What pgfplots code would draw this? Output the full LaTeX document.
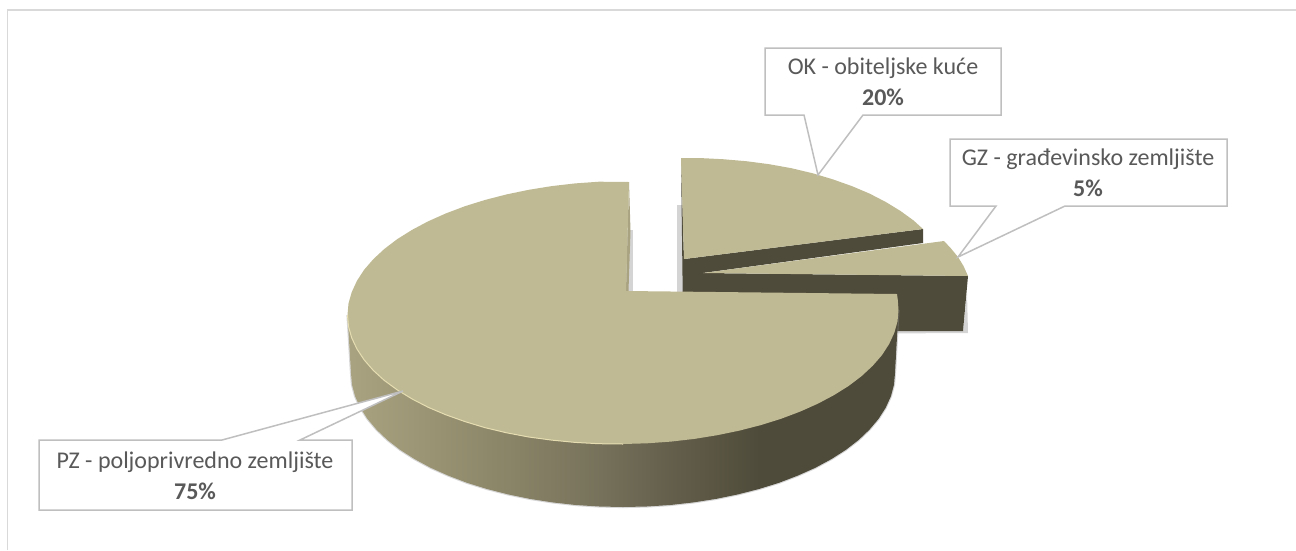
\documentclass[border=0pt]{standalone}
\usepackage{fontspec}
\setmainfont{Carlito}
\usepackage{pgfplots}
\usepackage{pgfplotstable}
\pgfplotsset{compat=1.18}
\definecolor{pietop}{HTML}{BFBA93}
\definecolor{piedark}{HTML}{4F4B3B}
\definecolor{pieedge}{HTML}{E6DDB2}
\definecolor{boxline}{HTML}{BFBFBF}
\definecolor{frameline}{HTML}{D9D9D9}
\definecolor{labeltext}{HTML}{595959}
\definecolor{sA}{HTML}{A9A381}
\definecolor{sB}{HTML}{908A6C}
\definecolor{sC}{HTML}{76715A}
\definecolor{sD}{HTML}{625D4A}
\definecolor{sE}{HTML}{54503E}
\pgfdeclarehorizontalshading{sideshade}{100bp}{color(0bp)=(sA);color(25bp)=(sA);color(37bp)=(sB);color(48bp)=(sC);color(55bp)=(sD);color(60.6bp)=(sE);color(62.4bp)=(piedark);color(100bp)=(piedark)}
% main slice, top surface (75 %)
\pgfplotstableread{
x y
629 182
599 181.7
575.2 183.4
551.7 186.1
528.8 189.8
506.6 194.4
485.2 199.9
465 206.2
445.9 213.4
428.2 221.3
412 229.9
397.3 239.1
384.4 248.9
373.3 259.2
364.1 269.8
356.9 280.9
351.7 292.2
348.5 303.5
347.5 315
348.5 326.5
351.7 337.8
356.9 348.9
364.1 359.8
373.3 370.4
384.4 380.5
397.3 389.9
412 398.9
428.2 407.3
445.9 414.8
465 421.6
485.2 427.7
506.6 432.8
528.8 437
551.7 440.1
575.2 442.4
599 443.7
623 444
647 443.3
670.8 441.6
694.3 438.9
717.2 435.2
739.4 430.6
760.8 425.1
781 418.8
800.1 411.6
817.8 403.7
834 395.1
848.7 385.9
861.6 376.1
872.7 365.8
881.9 355.2
889.1 344.1
894.3 332.8
897.5 321.5
898.5 310
897.8 300
897 294
626 291
}\maintop
% main slice, side silhouette
\pgfplotstableread{
x y
347.5 315
351 373
352 384.7
355.1 396.3
360.3 407.7
367.4 418.8
376.5 429.6
387.4 440
400.2 449.9
414.6 459.1
430.7 467.8
448.2 475.6
467 482.8
487 489
508.1 494.4
530 498.9
552.6 502.4
575.8 505
599.3 506.5
623 507
646.7 506.5
670.2 505
693.4 502.4
716 498.9
737.9 494.4
759 489
779 482.8
797.8 475.6
815.3 467.8
831.4 459.1
845.8 449.9
858.6 440
869.5 429.6
878.6 418.8
885.7 407.7
890.9 396.3
894 384.7
895 373
898.5 310
}\mainside
% lit rim of the main slice
\pgfplotstableread{
x y
347.5 315
348.5 326.5
351.7 337.8
356.9 348.9
364.1 359.8
373.3 370.4
384.4 380.5
397.3 389.9
412 398.9
428.2 407.3
445.9 414.8
465 421.6
485.2 427.7
506.6 432.8
528.8 437
551.7 440.1
575.2 442.4
599 443.7
623 444
}\mainrim
% OK slice, top surface (20 %)
\pgfplotstableread{
x y
681 158
699 158
722.8 159.2
746.3 161.2
769.2 164.2
791.4 168.2
812.8 173.3
833 179.4
852.1 186.2
869.8 193.7
886 202.1
900.7 211.1
913.6 220.5
923 229
684 259
}\oktop
% GZ slice, top surface (5 %)
\pgfplotstableread{
x y
703 273
944 241
951 248.5
958 257
963.5 266
968 276
}\gztop
\begin{document}
\begin{tikzpicture}
\begin{axis}[
  scale only axis, width=1296pt, height=550pt,
  xmin=0, xmax=1296, ymin=0, ymax=550, y dir=reverse,
  hide axis, clip=true,
]
\path (axis cs:0,0) rectangle (axis cs:1296,550);
% chart frame
\addplot[frameline, line width=1.4pt] coordinates {(7.5,550) (7.5,10) (1296,10)};
% soft shadows
\addplot[fill=black!28, draw=none, opacity=.6] coordinates {(677,205) (683,205) (683,292) (677,292)} -- cycle;
\addplot[fill=black!28, draw=none, opacity=.6] coordinates {(626,230) (632.5,230) (632.5,291) (626,291)} -- cycle;
\addplot[fill=black!28, draw=none, opacity=.6] coordinates {(880,331) (963,331) (967,293) (968,333) (880,333.5)} -- cycle;
% OK and GZ bodies
\addplot[fill=piedark, draw=none] coordinates {(681,158) (682.7,292) (700,292) (703,273) (923,243) (923,229) (684,259)} -- cycle;
\addplot[fill=piedark, draw=none] coordinates {(703,273) (968,276) (963,331) (880,331) (682.7,292)} -- cycle;
\addplot[fill=pietop, draw=none] table {\oktop} -- cycle;
\addplot[fill=pietop, draw=none] table {\gztop} -- cycle;
% main slice
\addplot[draw=black!45, line width=2.2pt, opacity=.35, fill=none] table {\mainside};
\addplot[shading=sideshade, draw=none] table {\mainside} -- cycle;
\addplot[fill=sA, draw=none] coordinates {(629,182) (630.5,231) (628.5,291) (626,291)} -- cycle;
\addplot[fill=pietop, draw=none] table {\maintop} -- cycle;
\addplot[pieedge, line width=1pt] table {\mainrim};
% callouts
\addplot[fill=white, draw=boxline, line width=1.5pt] coordinates {(765,48) (1001,48) (1001,115) (863,115) (818,175) (804,115) (765,115)} -- cycle;
\addplot[fill=white, draw=boxline, line width=1.5pt] coordinates {(950,139) (1227,139) (1227,206) (1065,206) (958,257) (996,206) (950,206)} -- cycle;
\addplot[fill=white, draw=boxline, line width=1.5pt] coordinates {(39,440) (222,440) (403,391) (300,440) (352,440) (352,510) (39,510)} -- cycle;
\node[text=labeltext, font=\fontsize{24}{28}\selectfont] at (axis cs:883,68) {OK - obiteljske kuće};
\node[text=labeltext, font=\fontsize{24}{28}\selectfont\bfseries] at (axis cs:883,97) {20\%};
\node[text=labeltext, font=\fontsize{24}{28}\selectfont] at (axis cs:1088,159) {GZ - građevinsko zemljište};
\node[text=labeltext, font=\fontsize{24}{28}\selectfont\bfseries] at (axis cs:1088,188) {5\%};
\node[text=labeltext, font=\fontsize{24}{28}\selectfont] at (axis cs:195,462) {PZ - poljoprivredno zemljište};
\node[text=labeltext, font=\fontsize{24}{28}\selectfont\bfseries] at (axis cs:195,491) {75\%};
\end{axis}
\end{tikzpicture}
\end{document}
